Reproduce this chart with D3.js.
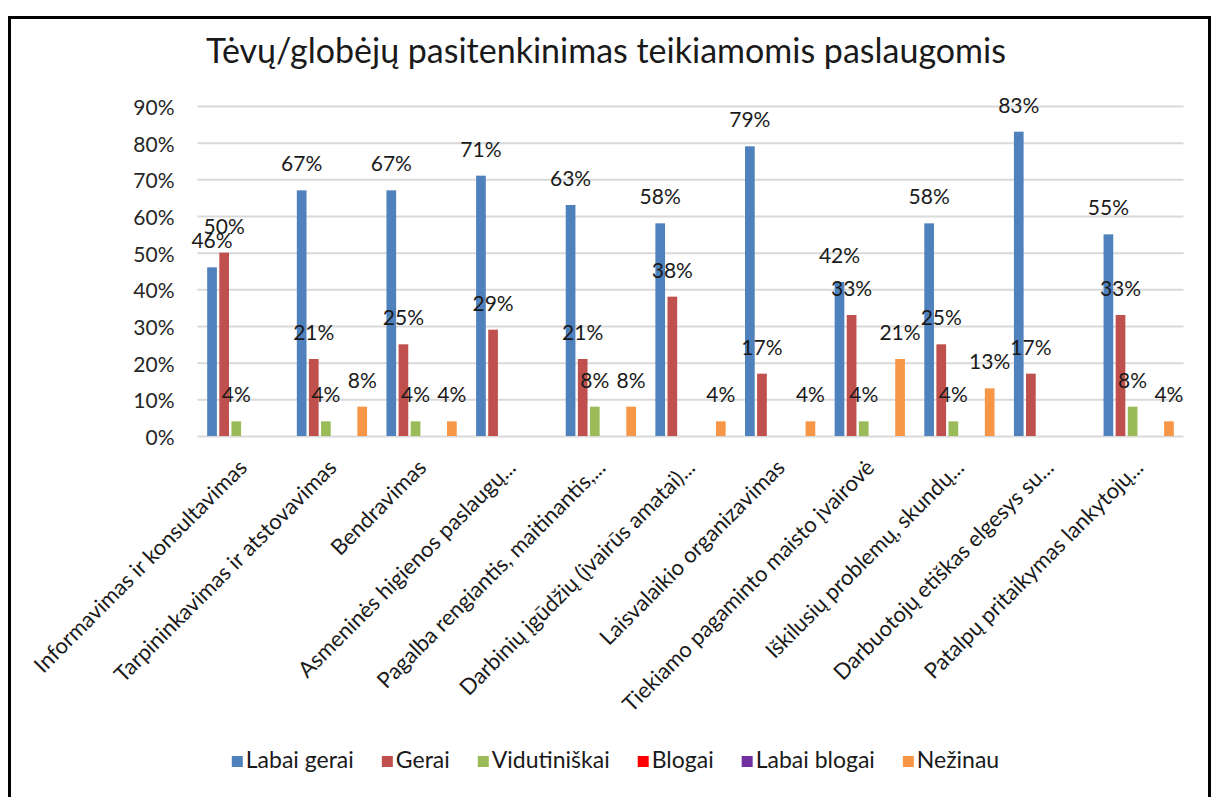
<!DOCTYPE html>
<html lang="lt">
<head>
<meta charset="utf-8">
<title>Tėvų/globėjų pasitenkinimas teikiamomis paslaugomis</title>
<script src="https://d3js.org/d3.v7.min.js"></script>
<style>
  body { margin: 0; background: #fff; }
  text { font-family: Lato, Carlito, "Noto Sans", sans-serif; }
</style>
</head>
<body>
<div id="chart"></div>
<script>
// data
var categories = [
  "Informavimas ir konsultavimas",
  "Tarpininkavimas ir atstovavimas",
  "Bendravimas",
  "Asmeninės higienos paslaugų...",
  "Pagalba rengiantis, maitinantis,...",
  "Darbinių įgūdžių (įvairūs amatai)...",
  "Laisvalaikio organizavimas",
  "Tiekiamo pagaminto maisto įvairovė",
  "Iškilusių problemų, skundų...",
  "Darbuotojų etiškas elgesys su...",
  "Patalpų pritaikymas lankytojų..."
];
var seriesNames = ["Labai gerai", "Gerai", "Vidutiniškai", "Blogai", "Labai blogai", "Nežinau"];
var labaiGerai   = [46, 67, 67, 71, 63, 58, 79, 42, 58, 83, 55];
var gerai        = [50, 21, 25, 29, 21, 38, 17, 33, 25, 17, 33];
var vidutiniskai = [4, 4, 4, 0, 8, 0, 0, 4, 4, 0, 8];
var blogai       = [0, 0, 0, 0, 0, 0, 0, 0, 0, 0, 0];
var labaiBlogai  = [0, 0, 0, 0, 0, 0, 0, 0, 0, 0, 0];
var nezinau      = [0, 8, 4, 0, 8, 4, 4, 21, 13, 0, 4];
var yTicks = [0, 10, 20, 30, 40, 50, 60, 70, 80, 90];
var colors = ["#4f81bd", "#c0504d", "#9bbb59", "#ff0000", "#7030a0", "#f79646"];

var seriesValues = [labaiGerai, gerai, vidutiniskai, blogai, labaiBlogai, nezinau];

var width = 1216, height = 797;
var svg = d3.select("#chart").append("svg")
    .attr("width", width)
    .attr("height", height);

// chart frame
svg.append("rect")
    .attr("x", 9.5).attr("y", 17.5)
    .attr("width", 1200).attr("height", 800)
    .attr("fill", "#fff")
    .attr("stroke", "#000")
    .attr("stroke-width", 3);

svg.append("text")
    .attr("x", 606).attr("y", 63)
    .attr("text-anchor", "middle")
    .attr("font-size", 34)
    .attr("fill", "#1a1a1a")
    .text("Tėvų/globėjų pasitenkinimas teikiamomis paslaugomis");

var x0 = d3.scaleBand()
    .domain(categories)
    .range([197.5, 1183.5]);

var x1 = d3.scaleBand()
    .domain(seriesNames)
    .range([0, x0.bandwidth()])
    .paddingInner(0.2)
    .paddingOuter(0.8);

var y = d3.scaleLinear()
    .domain([0, 90])
    .range([436, 106]);

// gridlines + y labels
var yAxis = svg.append("g")
    .attr("transform", "translate(197.5,0)")
    .call(d3.axisLeft(y).tickValues(yTicks).tickSize(-986).tickFormat(function(d) { return d + "%"; }));
yAxis.select(".domain").remove();
yAxis.selectAll(".tick line").attr("stroke", "#d9d9d9").attr("stroke-width", 2);
yAxis.selectAll(".tick text")
    .attr("x", -23)
    .attr("dy", "0.4em")
    .attr("font-size", 21)
    .attr("font-family", "Lato, Carlito, sans-serif")
    .attr("fill", "#262626");

// bars
var groups = svg.append("g")
  .selectAll("g")
  .data(categories)
  .enter().append("g")
    .attr("transform", function(d) { return "translate(" + x0(d) + ",0)"; });

var cells = groups.selectAll("g")
  .data(function(c, i) {
    return seriesNames.map(function(s, j) { return {key: s, value: seriesValues[j][i], color: colors[j]}; });
  })
  .enter().filter(function(d) { return d.value > 0; });

cells.append("rect")
    .attr("x", function(d) { return x1(d.key); })
    .attr("y", function(d) { return y(d.value); })
    .attr("width", x1.bandwidth())
    .attr("height", function(d) { return y(0) - y(d.value); })
    .attr("fill", function(d) { return d.color; });

cells.append("text")
    .attr("x", function(d) { return x1(d.key) + x1.bandwidth() / 2; })
    .attr("y", function(d) { return y(d.value) - 19; })
    .attr("text-anchor", "middle")
    .attr("font-size", 21)
    .attr("fill", "#1a1a1a")
    .text(function(d) { return d.value + "%"; });

// category labels
svg.append("g")
  .selectAll("text")
  .data(categories)
  .enter().append("text")
    .attr("transform", function(d) {
      return "translate(" + (x0(d) + x0.bandwidth() / 2 - 5) + ",458) rotate(-45)";
    })
    .attr("dy", "0.71em")
    .attr("text-anchor", "end")
    .attr("font-size", 22)
    .attr("fill", "#1a1a1a")
    .text(function(d) { return d; });

// legend
var legend = svg.append("g");
var lx = 0;
seriesNames.forEach(function(s, j) {
  var item = legend.append("g").attr("transform", "translate(" + lx + ",0)");
  item.append("rect")
      .attr("x", 0).attr("y", 756)
      .attr("width", 11).attr("height", 11)
      .attr("fill", colors[j]);
  var t = item.append("text")
      .attr("x", 14).attr("y", 768)
      .attr("font-size", 23)
      .attr("fill", "#1a1a1a")
      .text(s);
  lx += 14 + t.node().getComputedTextLength() + 28;
});
lx -= 28;
legend.attr("transform", "translate(" + (615.5 - lx / 2) + ",0)");
</script>
</body>
</html>
